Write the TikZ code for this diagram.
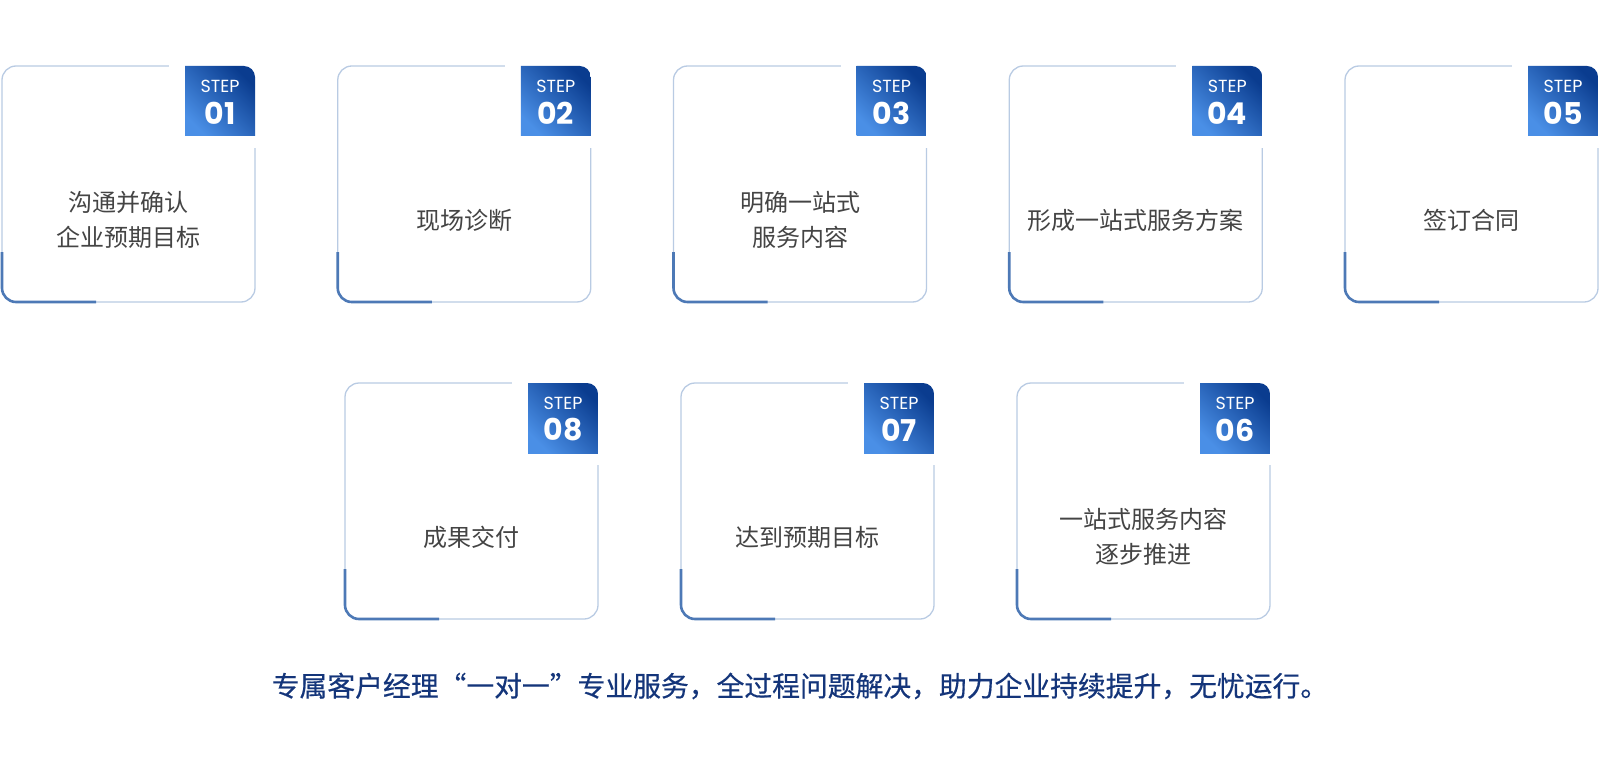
\documentclass[tikz,border=0pt]{standalone}
\usepackage{fontspec}
\newfontfamily\cjk{Noto Sans CJK SC}
\newfontfamily\cjkb[FakeBold=0.5]{Noto Sans CJK SC}
\newfontfamily\pop{Poppins}
\usetikzlibrary{calc}
\definecolor{bordercol}{HTML}{B9CBE3}
\definecolor{accentcol}{HTML}{4D79B6}
\definecolor{txtgray}{HTML}{444444}
\definecolor{navy}{HTML}{14357A}
\definecolor{bdark}{HTML}{0A3C8F}
\definecolor{blight}{HTML}{4A8FE6}
\tikzset{
  cardbox/.style={draw=bordercol, line width=1.3pt, rounded corners=14pt, minimum width=253pt, minimum height=236pt, inner sep=0pt, outer sep=0pt, fill=white},
  accentline/.style={draw=accentcol, line width=2.6pt, rounded corners=14pt},
  steplabel/.style={text=white, font=\pop\fontsize{17.5}{18}\selectfont, inner sep=0pt},
  numlabel/.style={text=white, font=\pop\bfseries\fontsize{30}{32}\selectfont, inner sep=0pt},
  cardtext/.style={text=txtgray, font=\cjk\fontsize{24}{35}\selectfont, align=center, inner sep=0pt},
  badgefill/.style={bottom color=blight, top color=bdark, shading angle=-45},
}
% #1 name, #2 left x, #3 top y, #4 number, #5 text
\newcommand\stepcard[5]{%
  \node[cardbox] (#1) at (#2+127.5, #3+119) {};
  \draw[accentline] ($(#1.south west)+(0,-50)$) -- (#1.south west) -- ($(#1.south west)+(94,0)$);
  \fill[white] ($(#1.north east)+(-86,-3)$) rectangle ($(#1.north east)+(3,82)$);
  \begin{scope}
    \clip[rounded corners=11pt] ($(#1.north east)+(-140,0)$) rectangle ($(#1.north east)+(0,140)$);
    \shade[badgefill]
      ($(#1.north east)+(-70,0)$) rectangle ($(#1.north east)+(0,70)$);
  \end{scope}
  \node[steplabel] (#1s) at ($(#1.north east)+(-35,20)$) {STEP};
  \node[numlabel] (#1n) at ($(#1.north east)+(-35,47)$) {#4};
  \node[cardtext] (#1t) at ($(#1.north)+(0,154)$) {#5};
}
\begin{document}
\begin{tikzpicture}[x=1pt,y=-1pt]
\useasboundingbox (0,0) rectangle (1600,757);
\stepcard{c1}{1}{65}{01}{沟通并确认\\企业预期目标}
\stepcard{c2}{336.75}{65}{02}{现场诊断}
\stepcard{c3}{672.5}{65}{03}{明确一站式\\服务内容}
\stepcard{c4}{1008.25}{65}{04}{形成一站式服务方案}
\stepcard{c5}{1344}{65}{05}{签订合同}
\stepcard{c8}{344}{382}{08}{成果交付}
\stepcard{c7}{680}{382}{07}{达到预期目标}
\stepcard{c6}{1016}{382}{06}{一站式服务内容\\逐步推进}
\node[text=navy, font=\cjkb\fontsize{27.8}{30}\selectfont, inner sep=0pt] (summary) at (800,686) {专属客户经理“一对一”专业服务，全过程问题解决，助力企业持续提升，无忧运行。};
\end{tikzpicture}
\end{document}
